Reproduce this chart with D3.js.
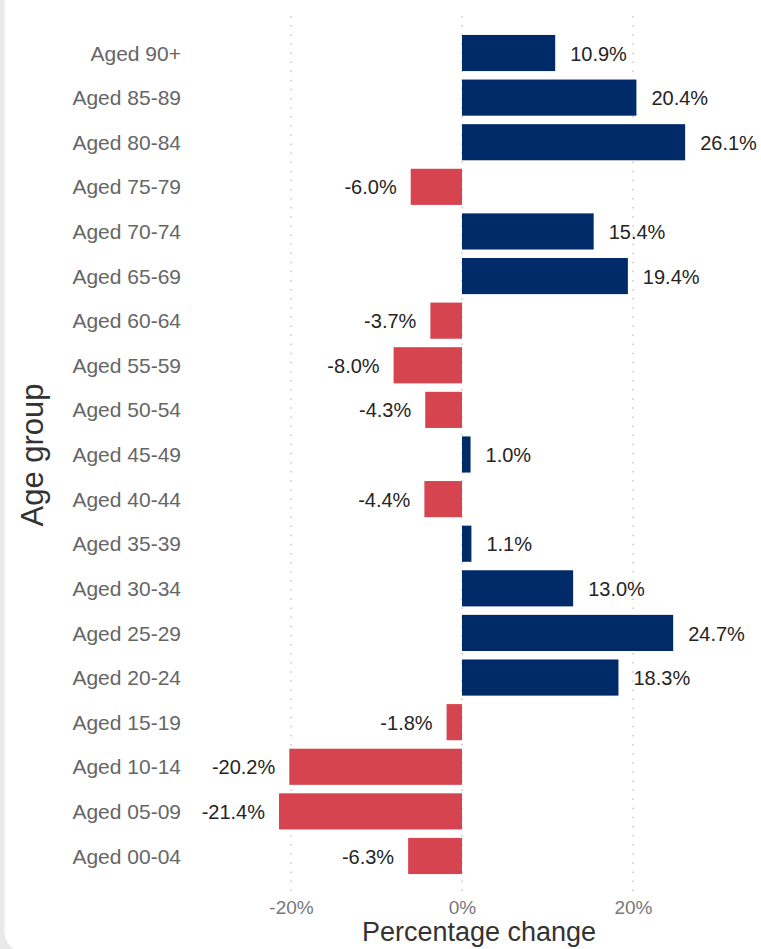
<!DOCTYPE html>
<html>
<head>
<meta charset="utf-8">
<script src="https://cdn.jsdelivr.net/npm/d3@7"></script>
<style>
  html, body { margin: 0; padding: 0; background: #e9e9e9; }
  svg { display: block; }
</style>
</head>
<body>
<svg id="chart" width="761" height="949"></svg>
<script>
const categories = ["Aged 90+","Aged 85-89","Aged 80-84","Aged 75-79","Aged 70-74","Aged 65-69","Aged 60-64","Aged 55-59","Aged 50-54","Aged 45-49","Aged 40-44","Aged 35-39","Aged 30-34","Aged 25-29","Aged 20-24","Aged 15-19","Aged 10-14","Aged 05-09","Aged 00-04"];
const values = [10.9, 20.4, 26.1, -6.0, 15.4, 19.4, -3.7, -8.0, -4.3, 1.0, -4.4, 1.1, 13.0, 24.7, 18.3, -1.8, -20.2, -21.4, -6.3];
const tickValues = [-20, 0, 20];
const tickLabels = ["-20%", "0%", "20%"];
const xTitle = "Percentage change";
const yTitle = "Age group";

const svg = d3.select("#chart");
const W = 761, H = 949;

// card background
svg.append("rect").attr("x", 0).attr("y", 0).attr("width", W).attr("height", H).attr("fill", "#e9e9e9");
svg.append("rect").attr("x", 4.5).attr("y", -40).attr("width", 820).attr("height", 992).attr("rx", 20).attr("fill", "#ffffff");

const x = d3.scaleLinear().domain([-30, 35]).range([462 - 30 * 8.55, 462 + 35 * 8.55]);
const y = d3.scaleBand().domain(categories).range([30.7, 878.3]).paddingInner(0.19).paddingOuter(0.095);

const fontMain = "'Liberation Sans', Arial, sans-serif";

// gridlines
svg.append("g").selectAll("line").data(tickValues).join("line")
  .attr("x1", d => x(d)).attr("x2", d => x(d))
  .attr("y1", 16).attr("y2", 891)
  .attr("stroke", "#b8b8b8").attr("stroke-width", 1.2)
  .attr("stroke-dasharray", "1.5,7.6");

// x axis tick labels via d3 axis
const xAxis = d3.axisBottom(x).tickValues(tickValues).tickFormat((d, i) => tickLabels[i]).tickSize(0).tickPadding(0);
const gx = svg.append("g").attr("transform", "translate(0,900)").call(xAxis);
gx.select(".domain").remove();
gx.selectAll("text").attr("font-family", fontMain).attr("font-size", 19).attr("fill", "#777777").attr("dy", "0.75em");

// y axis labels via d3 axis
const yAxis = d3.axisLeft(y).tickSize(0).tickPadding(0);
const gy = svg.append("g").attr("transform", "translate(181,0)").call(yAxis);
gy.select(".domain").remove();
gy.selectAll("text").attr("font-family", fontMain).attr("font-size", 21).attr("fill", "#666666").attr("dy", "0.36em");

// bars
svg.append("g").selectAll("rect").data(categories).join("rect")
  .attr("x", (d, i) => x(Math.min(0, values[i])))
  .attr("width", (d, i) => Math.abs(x(values[i]) - x(0)))
  .attr("y", d => y(d))
  .attr("height", y.bandwidth())
  .attr("fill", (d, i) => values[i] >= 0 ? "#012b68" : "#d6444f");

// data labels
svg.append("g").selectAll("text").data(categories).join("text")
  .attr("x", (d, i) => values[i] >= 0 ? x(values[i]) + 15 : x(values[i]) - 14)
  .attr("y", d => y(d) + y.bandwidth() / 2)
  .attr("dy", "0.38em")
  .attr("text-anchor", (d, i) => values[i] >= 0 ? "start" : "end")
  .attr("font-family", fontMain).attr("font-size", 20).attr("fill", "#252423")
  .text((d, i) => values[i].toFixed(1) + "%");

// axis titles
svg.append("text").attr("x", 479).attr("y", 941).attr("text-anchor", "middle")
  .attr("font-family", fontMain).attr("font-size", 27).attr("fill", "#333333").text(xTitle);
svg.append("text").attr("transform", "translate(43,455) rotate(-90)").attr("text-anchor", "middle")
  .attr("font-family", fontMain).attr("font-size", 31).attr("fill", "#333333").text(yTitle);
</script>
</body>
</html>
